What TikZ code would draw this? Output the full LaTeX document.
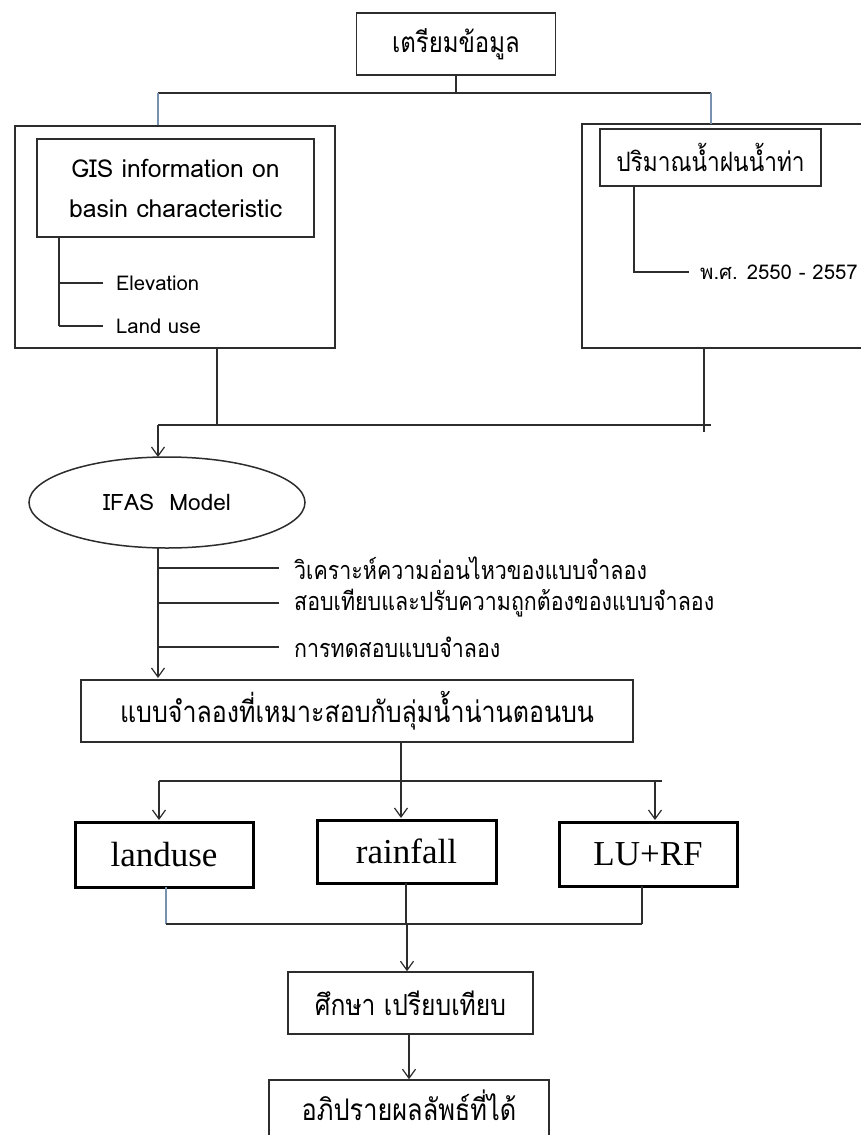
\documentclass[tikz,border=0pt]{standalone}
\usepackage{fontspec}
\newfontfamily\thai[Script=Thai,FakeStretch=0.85]{Loma}
\newfontfamily\latn[Script=Thai]{Loma}
\newfontfamily\tnr{Liberation Serif}
\usetikzlibrary{arrows.meta,shapes.geometric}
\definecolor{linec}{RGB}{45,45,45}
\definecolor{bluec}{RGB}{120,145,175}
\tikzset{
  ln/.style={draw=linec, line width=1.2pt},
  lnb/.style={draw=bluec, line width=1.2pt},
  arr/.style={ln, -{Straight Barb[length=9pt,width=13pt,line width=1.2pt]}},
  tbox/.style={draw=linec, line width=1.5pt, inner sep=0pt, align=center},
  bigbox/.style={draw=black, line width=3pt, inner sep=0pt, font=\tnr\fontsize{35}{40}\selectfont},
  lbl/.style={anchor=west, inner sep=0pt},
  thaiS/.style={font=\thai\fontsize{25.2}{28}\selectfont},
  small/.style={font=\latn\fontsize{20.3}{24}\selectfont},
}
\begin{document}
\begin{tikzpicture}[x=1pt,y=-1pt]
\useasboundingbox[fill=white] (0,0) rectangle (861,1135);

% top box
\node[tbox, font=\thai\fontsize{28.2}{30}\selectfont, minimum width=199pt, minimum height=62pt] (prep) at (456,44) {เตรียมข้อมูล};

% left outer and GIS
\node[tbox, minimum width=320pt, minimum height=222pt] (gisouter) at (175,237) {};
\node[tbox, font=\latn\fontsize{24.7}{40}\selectfont, minimum width=277pt, minimum height=98pt] (gis) at (175.5,188) {GIS information on\\basin characteristic};

% right outer (cut by page edge)
\draw[ln, line width=1.5pt] (870,124) -- (582,124) -- (582,348) -- (870,348);
\node[tbox, font=\thai\fontsize{26.7}{30}\selectfont, minimum width=221pt, minimum height=57pt] (rain) at (710.5,157.5) {ปริมาณน้ำฝนน้ำท่า};

% top connectors
\coordinate (jt) at (456,93);
\coordinate (jtl) at (158,93);
\coordinate (jtr) at (711,93);
\draw[ln] (prep.south) -- (jt);
\draw[ln] (jtl) -- (jtr);
\draw[lnb] (jtl) -- (jtl |- gisouter.north);
\draw[lnb] (jtr) -- (711,124);

% GIS tree
\coordinate (ge) at (59,283);
\coordinate (gl) at (59,326);
\draw[ln] (gis.south -| ge) -- (gl);
\node[lbl, small] (elev) at (116,283) {Elevation};
\node[lbl, small] (landuse) at (116,326) {Land use};
\draw[ln] (ge) -- (103,283);
\draw[ln] (gl) -- (103,326);

% rain tree
\coordinate (rt) at (634,272);
\draw[ln] (rain.south -| rt) -- (rt) -- (689,272);
\node[lbl, small] (year) at (700,272) {พ.ศ. 2550 - 2557};

% merge to IFAS
\coordinate (jm) at (158,425);
\coordinate (jml) at (217,425);
\draw[ln] (gisouter.south -| jml) -- (jml);
\draw[ln] (704,348) -- (704,432);
\draw[ln] (jm) -- (711,425);
\node[ellipse, draw=linec, line width=1.5pt, minimum width=276pt, minimum height=91pt, inner sep=0pt, font=\latn\fontsize{22.6}{26}\selectfont] (ifas) at (167,502.5) {IFAS\ \ Model};
\draw[arr] (jm) -- (158,457);

% model box
\node[tbox, font=\thai\fontsize{29.4}{32}\selectfont, minimum width=552pt, minimum height=62pt] (model) at (357,711) {แบบจำลองที่เหมาะสอบกับลุ่มน้ำน่านตอนบน};
\coordinate (b1) at (158,568);
\coordinate (b2) at (158,603);
\coordinate (b3) at (158,647);
\draw[arr] (158,548) -- (158,678);
\draw[ln] (b1) -- (279,568);
\draw[ln] (b2) -- (279,603);
\draw[ln] (b3) -- (279,647);
\node[lbl, thaiS] (t1) at (294,568) {วิเคราะห์ความอ่อนไหวของแบบจำลอง};
\node[lbl, thaiS] (t2) at (294,603) {สอบเทียบและปรับความถูกต้องของแบบจำลอง};
\node[lbl, thaiS] (t3) at (294,647) {การทดสอบแบบจำลอง};

% three boxes
\node[bigbox, minimum width=178pt, minimum height=65pt] (lu) at (164,854.5) {landuse};
\node[bigbox, minimum width=179pt, minimum height=63pt] (rf) at (406.5,851.5) {rainfall};
\node[bigbox, minimum width=178pt, minimum height=64pt] (lurf) at (648,854) {LU+RF};

\coordinate (js) at (401,781);
\coordinate (jsl) at (159,781);
\coordinate (jsr) at (655,781);
\draw[arr] (model.south -| js) -- (401,818);
\draw[ln] (jsl) -- (662,781);
\draw[arr] (jsl) -- (159,820);
\draw[arr] (jsr) -- (655,820);

% merge to study
\coordinate (jb) at (407,924);
\draw[lnb] (166,887) -- (166,924);
\draw[ln] (406,883) -- (406,924);
\draw[ln] (642,886) -- (642,924);
\draw[ln] (166,924) -- (642,924);
\node[tbox, font=\thai\fontsize{29}{32}\selectfont, minimum width=245pt, minimum height=62pt] (study) at (410.5,1003) {ศึกษา เปรียบเทียบ};
\draw[arr] (jb) -- (study.north -| jb);

% last box runs past the bottom edge
\node[tbox, minimum width=280pt, minimum height=64pt] (disc) at (409,1112) {};
\node[inner sep=0pt, font=\thai\fontsize{29.8}{32}\selectfont] (disctext) at (409,1105) {อภิปรายผลลัพธ์ที่ได้};
\draw[arr] (study.south -| 409,0) -- (disc.north -| 409,0);
\end{tikzpicture}
\end{document}
